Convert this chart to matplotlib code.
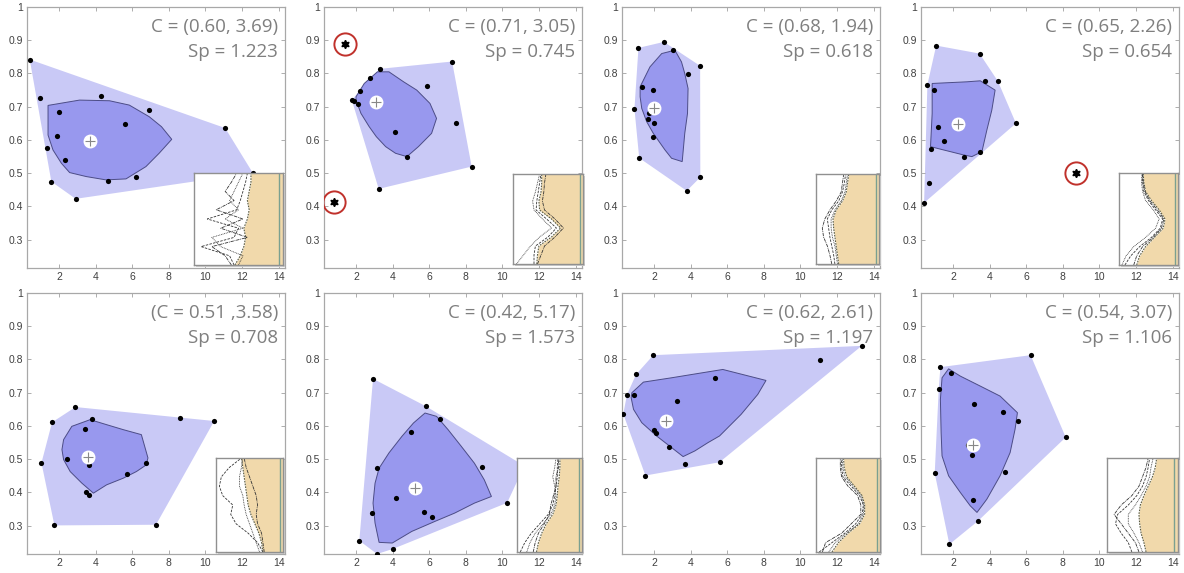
import matplotlib
matplotlib.use("Agg")
import matplotlib.pyplot as plt
from matplotlib.patches import Polygon

# ---- data: points per panel (x, y) ----
p1_x = [0.40, 0.95, 2.02, 1.91, 1.33, 2.33, 1.58, 2.91, 4.30, 5.59, 6.91, 4.70, 6.19, 11.08, 12.59]
p1_y = [0.842, 0.727, 0.684, 0.612, 0.577, 0.541, 0.475, 0.423, 0.731, 0.647, 0.691, 0.476, 0.490, 0.636, 0.501]
p2_x = [1.77, 1.91, 2.09, 2.22, 2.79, 3.31, 5.90, 7.25, 7.44, 4.14, 4.77, 8.32, 3.24]
p2_y = [0.720, 0.716, 0.709, 0.747, 0.787, 0.814, 0.763, 0.836, 0.650, 0.624, 0.549, 0.520, 0.453]
p3_x = [1.15, 2.54, 3.03, 4.52, 3.85, 1.33, 1.93, 0.93, 1.75, 1.66, 1.98, 1.93, 1.19, 4.53, 3.79]
p3_y = [0.877, 0.895, 0.870, 0.823, 0.798, 0.758, 0.749, 0.694, 0.680, 0.663, 0.650, 0.608, 0.546, 0.488, 0.447]
p4_x = [1.08, 3.45, 0.60, 0.95, 3.74, 4.45, 5.44, 1.18, 1.49, 0.82, 2.62, 3.50, 0.66, 0.42]
p4_y = [0.884, 0.860, 0.766, 0.749, 0.777, 0.777, 0.650, 0.638, 0.597, 0.573, 0.550, 0.563, 0.471, 0.411]
p5_x = [2.90, 1.62, 3.79, 3.43, 8.63, 10.48, 1.04, 2.43, 3.64, 6.77, 5.72, 3.48, 3.64, 1.75, 7.30]
p5_y = [0.657, 0.611, 0.621, 0.591, 0.624, 0.615, 0.489, 0.501, 0.483, 0.489, 0.457, 0.401, 0.393, 0.301, 0.303]
p6_x = [2.93, 5.83, 6.60, 5.02, 3.17, 8.86, 4.21, 2.90, 5.72, 6.15, 10.26, 2.18, 4.00, 3.15, 11.20]
p6_y = [0.742, 0.659, 0.620, 0.582, 0.473, 0.477, 0.383, 0.337, 0.341, 0.325, 0.369, 0.255, 0.230, 0.215, 0.480]
p7_x = [0.32, 0.52, 0.93, 1.02, 1.96, 3.27, 5.31, 2.02, 2.09, 2.81, 3.68, 5.58, 1.53, 11.07, 13.35]
p7_y = [0.636, 0.694, 0.694, 0.755, 0.813, 0.675, 0.744, 0.589, 0.580, 0.537, 0.487, 0.491, 0.451, 0.797, 0.841]
p8_x = [6.24, 1.31, 1.89, 1.22, 3.16, 4.72, 5.57, 8.16, 2.82, 3.03, 1.00, 4.85, 3.09, 3.36, 1.80]
p8_y = [0.813, 0.777, 0.758, 0.712, 0.665, 0.641, 0.615, 0.566, 0.542, 0.513, 0.458, 0.462, 0.377, 0.314, 0.244]

# outliers (circled in red)
out_x = [[], [1.39, 0.81], [], [8.74], [], [], [], []]
out_y = [[], [0.889, 0.414], [], [0.500], [], [], [], []]

# centroids
cen_x = [3.67, 3.08, 2.00, 2.27, 3.57, 5.20, 2.65, 3.09]
cen_y = [0.597, 0.713, 0.695, 0.648, 0.507, 0.415, 0.615, 0.543]

# inner (core) region outlines
in1_x = [1.40, 3.12, 4.76, 5.84, 6.93, 7.60, 8.16, 7.47, 6.75, 5.66, 4.57, 3.49, 2.58, 2.13, 1.67, 1.40]
in1_y = [0.704, 0.720, 0.718, 0.705, 0.670, 0.640, 0.602, 0.560, 0.520, 0.483, 0.480, 0.490, 0.502, 0.530, 0.570, 0.615]
in2_x = [2.00, 2.45, 3.17, 3.80, 4.60, 5.32, 6.04, 6.40, 6.13, 5.41, 4.78, 4.16, 3.62, 3.11, 2.72, 2.27, 2.00]
in2_y = [0.730, 0.770, 0.805, 0.805, 0.775, 0.750, 0.710, 0.665, 0.620, 0.580, 0.550, 0.560, 0.580, 0.610, 0.640, 0.680, 0.720]
in3_x = [1.24, 1.78, 2.42, 3.14, 3.50, 3.68, 3.86, 3.83, 3.68, 3.54, 2.96, 2.60, 1.96, 1.60, 1.33, 1.24]
in3_y = [0.760, 0.820, 0.860, 0.870, 0.835, 0.800, 0.755, 0.680, 0.620, 0.535, 0.545, 0.570, 0.620, 0.655, 0.695, 0.730]
in4_x = [0.86, 2.76, 3.49, 4.30, 4.12, 3.85, 3.58, 3.03, 2.58, 1.49, 0.77, 0.86]
in4_y = [0.770, 0.775, 0.778, 0.750, 0.690, 0.630, 0.565, 0.550, 0.555, 0.570, 0.580, 0.680]
in5_x = [2.25, 2.70, 3.70, 4.60, 5.51, 6.50, 6.86, 6.77, 6.23, 5.51, 4.60, 3.88, 3.25, 2.61, 2.25, 2.16]
in5_y = [0.559, 0.599, 0.619, 0.604, 0.589, 0.574, 0.504, 0.483, 0.463, 0.443, 0.423, 0.398, 0.428, 0.463, 0.499, 0.529]
in6_x = [3.04, 3.26, 3.80, 4.51, 5.14, 5.77, 6.40, 7.03, 7.75, 8.47, 9.01, 9.40, 8.47, 7.39, 6.31, 5.05, 3.98, 3.26, 3.04, 2.93]
in6_y = [0.428, 0.473, 0.519, 0.569, 0.609, 0.639, 0.629, 0.589, 0.539, 0.488, 0.438, 0.388, 0.368, 0.338, 0.313, 0.283, 0.248, 0.250, 0.308, 0.368]
in7_x = [0.79, 1.42, 2.96, 4.41, 5.76, 8.12, 7.67, 6.76, 5.58, 4.95, 4.23, 3.59, 2.96, 2.14, 1.33, 0.88, 0.75]
in7_y = [0.700, 0.732, 0.745, 0.758, 0.770, 0.737, 0.695, 0.635, 0.570, 0.550, 0.525, 0.508, 0.535, 0.570, 0.610, 0.650, 0.685]
in8_x = [1.40, 1.76, 2.40, 3.49, 4.57, 5.52, 5.39, 5.12, 4.57, 3.85, 3.31, 2.94, 2.40, 1.76, 1.40, 1.35, 1.31]
in8_y = [0.745, 0.772, 0.750, 0.720, 0.690, 0.640, 0.590, 0.520, 0.450, 0.380, 0.340, 0.360, 0.400, 0.450, 0.510, 0.580, 0.680]

c_labels = ["C = (0.60, 3.69)", "C = (0.71, 3.05)", "C = (0.68, 1.94)", "C = (0.65, 2.26)",
            "(C = 0.51 ,3.58)", "C = (0.42, 5.17)", "C = (0.62, 2.61)", "C = (0.54, 3.07)"]
sp_labels = ["Sp = 1.223", "Sp = 0.745", "Sp = 0.618", "Sp = 0.654",
             "Sp = 0.708", "Sp = 1.573", "Sp = 1.197", "Sp = 1.106"]

x_ticks = [2, 4, 6, 8, 10, 12, 14]
y_ticks = [0.3, 0.4, 0.5, 0.6, 0.7, 0.8, 0.9, 1.0]
y_ticklabels = ["0.3", "0.4", "0.5", "0.6", "0.7", "0.8", "0.9", "1"]

# ---- inset shoreline sketches (x fraction at each level, bottom -> top) ----
levels = [0.0, 0.1, 0.2, 0.3, 0.4, 0.5, 0.6, 0.7, 0.8, 0.9, 1.0]
shore = [
    [0.46, 0.52, 0.56, 0.58, 0.56, 0.60, 0.62, 0.60, 0.62, 0.64, 0.64],
    [0.34, 0.35, 0.37, 0.55, 0.68, 0.55, 0.38, 0.37, 0.40, 0.41, 0.41],
    [0.36, 0.34, 0.32, 0.30, 0.28, 0.27, 0.32, 0.42, 0.48, 0.50, 0.52],
    [0.30, 0.35, 0.45, 0.60, 0.75, 0.78, 0.68, 0.55, 0.45, 0.42, 0.41],
    [0.70, 0.68, 0.64, 0.58, 0.52, 0.48, 0.46, 0.44, 0.42, 0.40, 0.38],
    [0.30, 0.33, 0.38, 0.45, 0.55, 0.60, 0.62, 0.63, 0.65, 0.66, 0.66],
    [0.25, 0.35, 0.50, 0.68, 0.76, 0.76, 0.72, 0.60, 0.48, 0.44, 0.43],
    [0.55, 0.52, 0.48, 0.46, 0.45, 0.47, 0.52, 0.58, 0.64, 0.68, 0.70],
]
curves = [
    [[0.45, 0.40, 0.08, 0.45, 0.50, 0.15, 0.48, 0.52, 0.55, 0.58, 0.60],
     [0.50, 0.55, 0.30, 0.20, 0.55, 0.35, 0.50, 0.40, 0.45, 0.50, 0.55],
     [0.42, 0.35, 0.20, 0.60, 0.30, 0.55, 0.25, 0.45, 0.35, 0.42, 0.48]],
    [[0.30, 0.30, 0.32, 0.50, 0.62, 0.48, 0.33, 0.34, 0.36, 0.38, 0.40],
     [0.05, 0.15, 0.25, 0.38, 0.55, 0.42, 0.30, 0.28, 0.32, 0.35, 0.38],
     [0.35, 0.40, 0.45, 0.60, 0.72, 0.60, 0.45, 0.42, 0.44, 0.45, 0.47]],
    [[0.30, 0.28, 0.25, 0.22, 0.20, 0.18, 0.25, 0.36, 0.42, 0.45, 0.47],
     [0.34, 0.32, 0.30, 0.26, 0.24, 0.24, 0.30, 0.40, 0.46, 0.48, 0.50],
     [0.25, 0.22, 0.18, 0.12, 0.10, 0.14, 0.22, 0.32, 0.40, 0.42, 0.44]],
    [[0.10, 0.20, 0.35, 0.55, 0.70, 0.74, 0.62, 0.50, 0.42, 0.40, 0.40],
     [0.05, 0.12, 0.25, 0.45, 0.62, 0.68, 0.58, 0.45, 0.40, 0.38, 0.39],
     [0.25, 0.30, 0.40, 0.58, 0.72, 0.76, 0.65, 0.52, 0.44, 0.41, 0.40]],
    [[0.70, 0.62, 0.48, 0.30, 0.22, 0.25, 0.10, 0.05, 0.08, 0.20, 0.38],
     [0.65, 0.60, 0.55, 0.50, 0.45, 0.42, 0.40, 0.35, 0.35, 0.38, 0.40],
     [0.72, 0.70, 0.68, 0.62, 0.60, 0.62, 0.60, 0.55, 0.50, 0.45, 0.42]],
    [[0.05, 0.12, 0.22, 0.35, 0.48, 0.55, 0.58, 0.60, 0.62, 0.62, 0.63],
     [0.15, 0.20, 0.28, 0.40, 0.52, 0.58, 0.60, 0.58, 0.55, 0.58, 0.60],
     [0.25, 0.28, 0.33, 0.42, 0.50, 0.52, 0.56, 0.60, 0.60, 0.64, 0.64]],
    [[0.05, 0.25, 0.45, 0.62, 0.72, 0.74, 0.68, 0.55, 0.42, 0.40, 0.40],
     [0.20, 0.30, 0.48, 0.66, 0.74, 0.75, 0.70, 0.58, 0.45, 0.42, 0.41],
     [0.10, 0.15, 0.40, 0.55, 0.70, 0.70, 0.65, 0.50, 0.40, 0.38, 0.38]],
    [[0.35, 0.30, 0.20, 0.12, 0.15, 0.30, 0.42, 0.50, 0.55, 0.58, 0.60],
     [0.50, 0.45, 0.38, 0.30, 0.30, 0.40, 0.48, 0.55, 0.60, 0.62, 0.65],
     [0.45, 0.40, 0.30, 0.20, 0.10, 0.20, 0.35, 0.45, 0.50, 0.55, 0.58]],
]

# layout in figure pixels
W, H = 1184, 573
col_left = [27, 324, 622, 921]
row_top = [7, 293]
ax_w, ax_h = 258, 261
inset_box = [(194, 173, 283, 265), (513, 174, 583, 264), (816, 174, 879, 264), (1119, 173, 1178, 265),
             (216, 458, 283, 552), (517, 458, 582, 552), (816, 458, 880, 552), (1107, 458, 1178, 552)]

OUTER = "#c9c9f6"
INNER = "#9898ee"
EDGE = "#4c4c86"
TXT = "#7f7f7f"


def convex_hull(xs, ys):
    pts = sorted(set(zip(xs, ys)))

    def cross(o, a, b):
        return (a[0] - o[0]) * (b[1] - o[1]) - (a[1] - o[1]) * (b[0] - o[0])

    lower, upper = [], []
    for p in pts:
        while len(lower) >= 2 and cross(lower[-2], lower[-1], p) <= 0:
            lower.pop()
        lower.append(p)
    for p in reversed(pts):
        while len(upper) >= 2 and cross(upper[-2], upper[-1], p) <= 0:
            upper.pop()
        upper.append(p)
    return lower[:-1] + upper[:-1]


pts_x = [p1_x, p2_x, p3_x, p4_x, p5_x, p6_x, p7_x, p8_x]
pts_y = [p1_y, p2_y, p3_y, p4_y, p5_y, p6_y, p7_y, p8_y]
inner_x = [in1_x, in2_x, in3_x, in4_x, in5_x, in6_x, in7_x, in8_x]
inner_y = [in1_y, in2_y, in3_y, in4_y, in5_y, in6_y, in7_y, in8_y]

plt.rcParams['font.family'] = ['Liberation Sans', 'DejaVu Sans']
fig = plt.figure(figsize=(W / 100, H / 100), dpi=100)

for i in range(8):
    r, c = divmod(i, 4)
    left = col_left[c] / W
    bottom = 1 - (row_top[r] + ax_h) / H
    ax = fig.add_axes([left, bottom, ax_w / W, ax_h / H])
    ax.set_xlim(0.25, 14.35)
    ax.set_ylim(0.215, 1.0)

    hull = convex_hull(pts_x[i], pts_y[i])
    ax.add_patch(Polygon(hull, closed=True, facecolor=OUTER, edgecolor='none', zorder=1))
    ax.add_patch(Polygon(list(zip(inner_x[i], inner_y[i])), closed=True,
                         facecolor=INNER, edgecolor=EDGE, linewidth=0.7, zorder=2))
    ax.scatter(pts_x[i], pts_y[i], s=14, color='black', zorder=3, linewidths=0)
    if out_x[i]:
        ax.plot(out_x[i], out_y[i], linestyle='none', marker=(6, 1, 0), markersize=6,
                color='black', zorder=4)
        ax.plot(out_x[i], out_y[i], linestyle='none', marker='o', markersize=16,
                markerfacecolor='none', markeredgecolor='#c0312b', markeredgewidth=1.4, zorder=4)
    ax.plot(cen_x[i], cen_y[i], marker='o', markersize=9, color='white', zorder=5)
    ax.plot(cen_x[i], cen_y[i], marker='+', markersize=7, color='#888888',
            markeredgewidth=0.8, zorder=6)

    ax.text(0.973, 0.923, c_labels[i], transform=ax.transAxes, ha='right', va='center',
            fontsize=13.5, color=TXT, family=['Open Sans', 'DejaVu Sans'], zorder=7)
    ax.text(0.973, 0.828, sp_labels[i], transform=ax.transAxes, ha='right', va='center',
            fontsize=13.5, color=TXT, family=['Open Sans', 'DejaVu Sans'], zorder=7)

    ax.set_xticks(x_ticks)
    ax.set_yticks(y_ticks)
    ax.set_yticklabels(y_ticklabels)
    ax.tick_params(direction='in', length=3, width=0.6, colors='#a0a0a0',
                   labelcolor='#404040', labelsize=7.5, top=True, right=True, pad=3)
    for s in ax.spines.values():
        s.set_color('#a8a8a8')
        s.set_linewidth(0.9)

    # inset with a soft shadow behind it
    x0, y0, x1, y1 = inset_box[i]
    shadow = fig.add_axes([(x0 + 2) / W, 1 - (y1 + 2) / H, (x1 - x0) / W, (y1 - y0) / H])
    shadow.set_facecolor('#d0d0d0')
    shadow.set_xticks([])
    shadow.set_yticks([])
    for s in shadow.spines.values():
        s.set_visible(False)
    ia = fig.add_axes([x0 / W, 1 - y1 / H, (x1 - x0) / W, (y1 - y0) / H])
    ia.set_xlim(0, 1)
    ia.set_ylim(0, 1)
    ia.fill_betweenx(levels, shore[i], [1.0] * len(levels), color='#f1d9ab', linewidth=0)
    ia.plot(shore[i], levels, color='#5a5a40', linewidth=0.8, linestyle=(0, (1.5, 1)))
    for k, cv in enumerate(curves[i]):
        ls = [(0, (3, 1.5)), (0, (1, 1)), (0, (4, 1, 1, 1))][k]
        ia.plot(cv, levels, color='#333333', linewidth=0.6, linestyle=ls)
    ia.axvline(0.95, color='#7aa090', linewidth=1.0)
    ia.set_xticks([])
    ia.set_yticks([])
    for s in ia.spines.values():
        s.set_color('#909090')
        s.set_linewidth(1.0)

fig.savefig("out.png", dpi=100)
